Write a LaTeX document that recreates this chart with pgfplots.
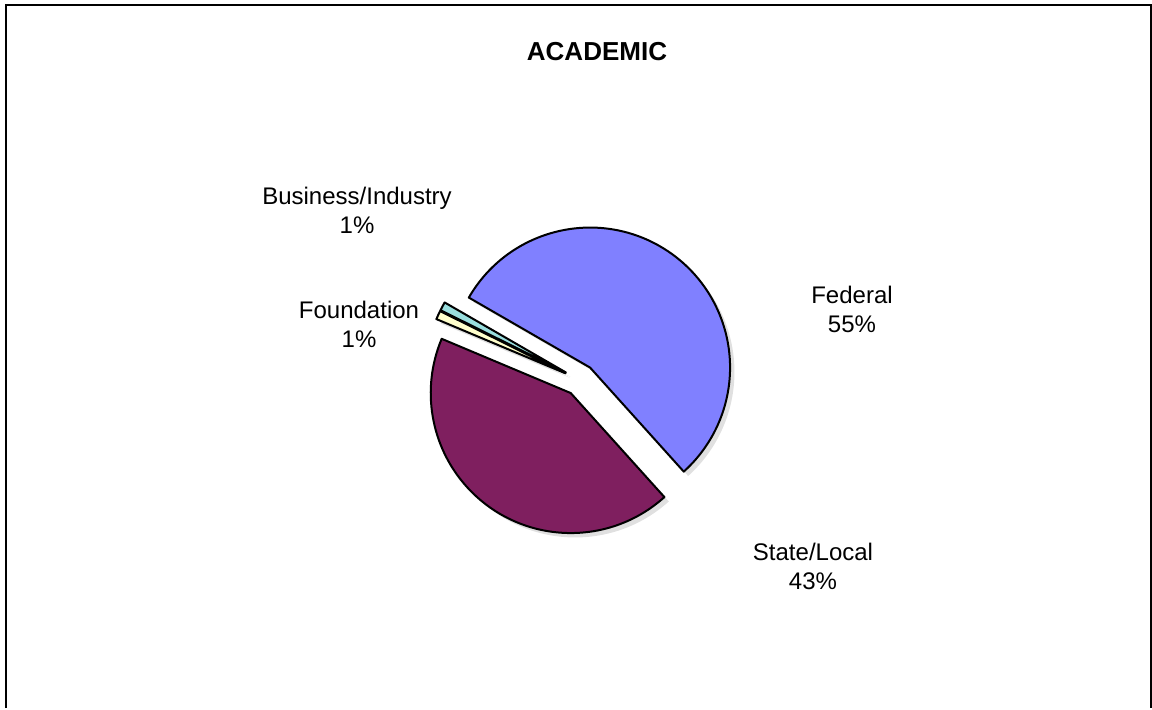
\documentclass[border=0pt]{standalone}
\usepackage{pgfplots}
\pgfplotsset{compat=1.18}
\usepackage{pgfplotstable}
\usepackage{fontspec}
\setmainfont{Liberation Sans}

\definecolor{fedc}{HTML}{8080FF}
\definecolor{stac}{HTML}{7F1F5F}
\definecolor{fouc}{HTML}{FFFFCC}
\definecolor{busc}{HTML}{99DEDE}

% share of funding, percent
\pgfplotstableread{
label value fill
Federal 55 fedc
State/Local 43 stac
Foundation 1 fouc
Business/Industry 1 busc
}\piedata

\begin{document}
\begin{tikzpicture}
\begin{axis}[
    width=576pt, height=354pt,
    scale only axis,
    xmin=0, xmax=1152,
    ymin=0, ymax=708,
    y dir=reverse,
    hide axis,
    clip=false,
]
\addplot[draw=none] coordinates {(0,0) (1152,708)};
\pgfplotsextra{
  % shadows first
  \gdef\curangle{150}
  \foreach \i in {0,...,3}{
    \pgfplotstablegetelem{\i}{value}\of\piedata \let\v\pgfplotsretval
    \pgfmathsetmacro\aone{\curangle}
    \pgfmathsetmacro\atwo{\curangle-3.6*\v}
    \pgfmathsetmacro\amid{(\aone+\atwo)/2}
    \fill[black, opacity=0.12] ([shift={(2.2pt,-2.2pt)}]axis cs:580,380) ++(\amid:8pt)
      -- ++(\aone:70pt) arc[start angle=\aone, end angle=\atwo, radius=70pt] -- cycle;
    \xdef\curangle{\atwo}
  }
  % slices
  \gdef\curangle{150}
  \foreach \i in {0,...,3}{
    \pgfplotstablegetelem{\i}{value}\of\piedata \let\v\pgfplotsretval
    \pgfplotstablegetelem{\i}{fill}\of\piedata \let\c\pgfplotsretval
    \pgfmathsetmacro\aone{\curangle}
    \pgfmathsetmacro\atwo{\curangle-3.6*\v}
    \pgfmathsetmacro\amid{(\aone+\atwo)/2}
    \filldraw[fill=\c, draw=black, line width=1pt, line join=round]
      (axis cs:580,380) ++(\amid:8pt)
      -- ++(\aone:70pt) arc[start angle=\aone, end angle=\atwo, radius=70pt] -- cycle;
    \xdef\curangle{\atwo}
  }
  % frame (bottom edge lies outside the picture)
  \draw[line width=1pt] (axis cs:6,708) -- (axis cs:6,5) -- (axis cs:1151,5) -- (axis cs:1151,708);
  % title and labels
  \node[font=\fontsize{13}{15}\selectfont\bfseries] at (axis cs:597,52) {ACADEMIC};
  \begin{scope}[every node/.style={align=center, inner sep=0pt, font=\fontsize{12}{14.5}\selectfont}]
    \node at (axis cs:357,210) {Business/Industry\\1\%};
    \node at (axis cs:359,324) {Foundation\\1\%};
    \node at (axis cs:852,309) {Federal\\55\%};
    \node at (axis cs:813,566) {State/Local\\43\%};
  \end{scope}
}
\end{axis}
\end{tikzpicture}
\end{document}
